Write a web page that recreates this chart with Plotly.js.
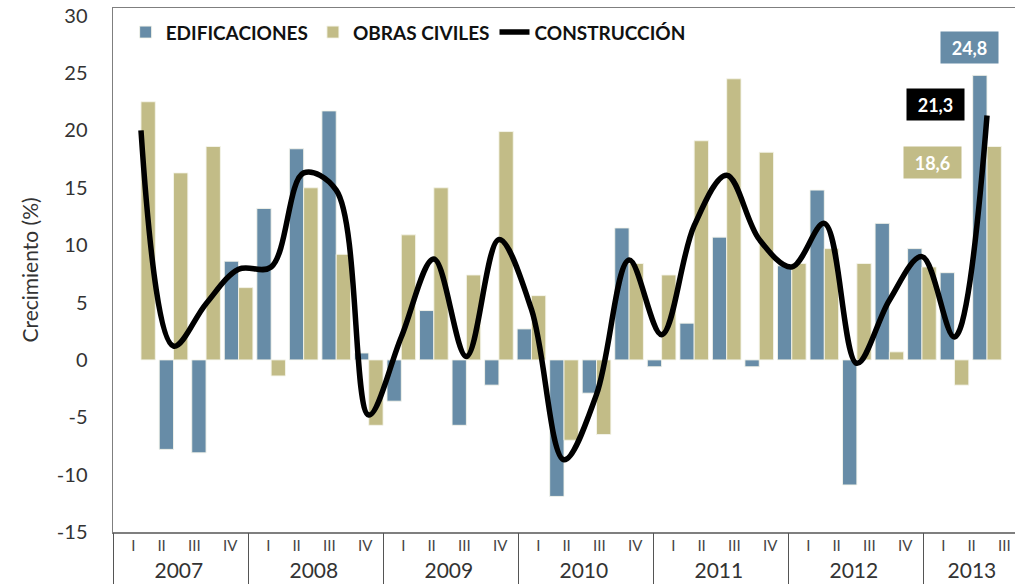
<!DOCTYPE html>
<html>
<head>
<meta charset="utf-8">
<script src="https://cdn.plot.ly/plotly-3.0.1.min.js"></script>
<style>
  html, body { margin: 0; padding: 0; background: #ffffff; }
  #chart { width: 1015px; height: 584px; }
</style>
</head>
<body>
<div id="chart"></div>
<script>
// ---- data ----
const years = ['2007', '2008', '2009', '2010', '2011', '2012', '2013'];
const quarterLabels = ['I', 'II', 'III', 'IV'];
const quartersPerYear = [4, 4, 4, 4, 4, 4, 3];

const edificaciones = [
  null, -7.8, -8.1, 8.6,
  13.2, 18.4, 21.7, 0.6,
  -3.6, 4.3, -5.7, -2.2,
  2.7, -11.9, -2.9, 11.5,
  -0.6, 3.2, 10.7, -0.6,
  8.2, 14.8, -10.9, 11.9,
  9.7, 7.6, 24.8
];
const obrasCiviles = [
  22.5, 16.3, 18.6, 6.3,
  -1.4, 15.0, 9.2, -5.7,
  10.9, 15.0, 7.4, 19.9,
  5.6, -7.0, -6.5, 8.4,
  7.4, 19.1, 24.5, 18.1,
  8.4, 9.7, 8.4, 0.7,
  8.1, -2.2, 18.6
];
const construccion = [
  20.0, 1.2, 4.9, 7.9,
  8.1, 16.3, 14.8, -4.8,
  2.0, 8.8, 0.3, 10.5,
  4.4, -8.7, -3.0, 8.7,
  2.2, 11.7, 16.1, 10.5,
  8.1, 11.9, -0.3, 5.2,
  9.0, 2.0, 21.3
];
const seriesNames = ['EDIFICACIONES', 'OBRAS CIVILES', 'CONSTRUCCIÓN'];
const yTickVals = [-15, -10, -5, 0, 5, 10, 15, 20, 25, 30];

// ---- styling / layout helpers ----
const BLUE = '#678ca7';
const KHAKI = '#c2bc87';
const FONT = 'Lato, "Open Sans", sans-serif';
const TXT = '#333333';

const idx = edificaciones.map((_, i) => i);

// quarter / year label positions (in quarter units along the lower band)
const qOffset = [0.60, 1.44, 2.41, 3.47];
const qTickVals = [], qTickText = [], yearCenters = [], separators = [];
let start = 0;
years.forEach((yr, y) => {
  const n = quartersPerYear[y];
  separators.push(start);
  for (let q = 0; q < n; q++) {
    qTickVals.push(start + qOffset[q]);
    qTickText.push(quarterLabels[q]);
  }
  yearCenters.push(start + n / 2 - 0.05);
  start += n;
});
separators.push(start);

const fmt = v => v.toFixed(1).replace('.', ',');
const last = idx.length - 1;

const traces = [
  {
    type: 'bar', name: seriesNames[0], x: idx, y: edificaciones,
    marker: { color: BLUE, line: { color: 'rgba(245,245,235,0.9)', width: 1 } },
    hoverinfo: 'skip'
  },
  {
    type: 'bar', name: seriesNames[1], x: idx, y: obrasCiviles,
    marker: { color: KHAKI, line: { color: 'rgba(245,245,235,0.9)', width: 1 } },
    hoverinfo: 'skip'
  },
  {
    type: 'scatter', mode: 'lines', name: seriesNames[2], x: idx, y: construccion,
    line: { color: '#000000', width: 5.5, shape: 'spline', smoothing: 1 },
    hoverinfo: 'skip'
  },
  // invisible helpers so the label bands exist
  { type: 'scatter', x: [0], y: [null], xaxis: 'x2', yaxis: 'y', showlegend: false, hoverinfo: 'skip' },
  { type: 'scatter', x: [0], y: [null], xaxis: 'x3', yaxis: 'y', showlegend: false, hoverinfo: 'skip' },
  { type: 'scatter', x: [0], y: [null], xaxis: 'x4', yaxis: 'y', showlegend: false, hoverinfo: 'skip' }
];

const bandRange = [0, 902 / 33.75];

const boxLabel = (px, py, val, bg) => ({
  xref: 'paper', yref: 'paper', x: (px - 113) / 902, y: (532 - py) / 524,
  xanchor: 'center', yanchor: 'middle',
  text: fmt(val), showarrow: false,
  bgcolor: bg, width: 55, height: 29, borderpad: 1,
  font: { family: FONT, size: 18, color: '#ffffff', weight: 'bold' }
});

const layout = {
  width: 1015, height: 584,
  margin: { l: 113, r: 0, t: 8, b: 52 },
  paper_bgcolor: '#ffffff', plot_bgcolor: '#ffffff',
  font: { family: FONT, color: TXT },
  barmode: 'group', bargap: 0.12, bargroupgap: 0,
  showlegend: true,
  legend: {
    orientation: 'h', x: 0.014, y: 0.99, xanchor: 'left', yanchor: 'top',
    font: { family: FONT, size: 19, color: '#111111', weight: 'bold' },
    itemwidth: 30, tracegroupgap: 0, bgcolor: 'rgba(0,0,0,0)'
  },
  xaxis: {
    range: [-0.86, 26.86], showticklabels: false, ticks: '',
    showgrid: false, zeroline: false,
    showline: true, mirror: true, linecolor: '#7f7f7f', linewidth: 1.5
  },
  xaxis2: {
    overlaying: 'x', anchor: 'y', side: 'bottom', range: bandRange,
    tickmode: 'array', tickvals: qTickVals, ticktext: qTickText,
    ticks: '', showgrid: false, zeroline: false, showline: false,
    tickfont: { family: FONT, size: 15, color: '#444444' }, ticklabelstandoff: 3
  },
  xaxis3: {
    overlaying: 'x', anchor: 'y', side: 'bottom', range: bandRange,
    tickmode: 'array', tickvals: yearCenters, ticktext: years,
    ticks: '', showgrid: false, zeroline: false, showline: false,
    tickfont: { family: FONT, size: 21, color: TXT }, ticklabelstandoff: 24
  },
  xaxis4: {
    overlaying: 'x', anchor: 'y', side: 'bottom', range: bandRange,
    tickmode: 'array', tickvals: separators, ticktext: separators.map(() => ''),
    ticks: 'outside', ticklen: 52, tickwidth: 1, tickcolor: '#555555',
    showticklabels: false, showgrid: false, zeroline: false, showline: false
  },
  yaxis: {
    range: [-15, 30.67], tickmode: 'array', tickvals: yTickVals,
    ticktext: yTickVals.map(v => String(v)),
    ticks: '', ticklabelstandoff: 20,
    tickfont: { family: FONT, size: 20, color: TXT },
    showgrid: false, zeroline: false,
    showline: true, linecolor: '#7f7f7f', linewidth: 1.5,
    title: { text: 'Crecimiento (%)', font: { family: FONT, size: 21, color: TXT }, standoff: 12 }
  },
  annotations: [
    boxLabel(969, 47, edificaciones[last], BLUE),
    boxLabel(935.5, 104.5, construccion[last], '#000000'),
    boxLabel(932.5, 163, obrasCiviles[last], KHAKI)
  ]
};

Plotly.newPlot('chart', traces, layout, { displayModeBar: false, staticPlot: true });
</script>
</body>
</html>
